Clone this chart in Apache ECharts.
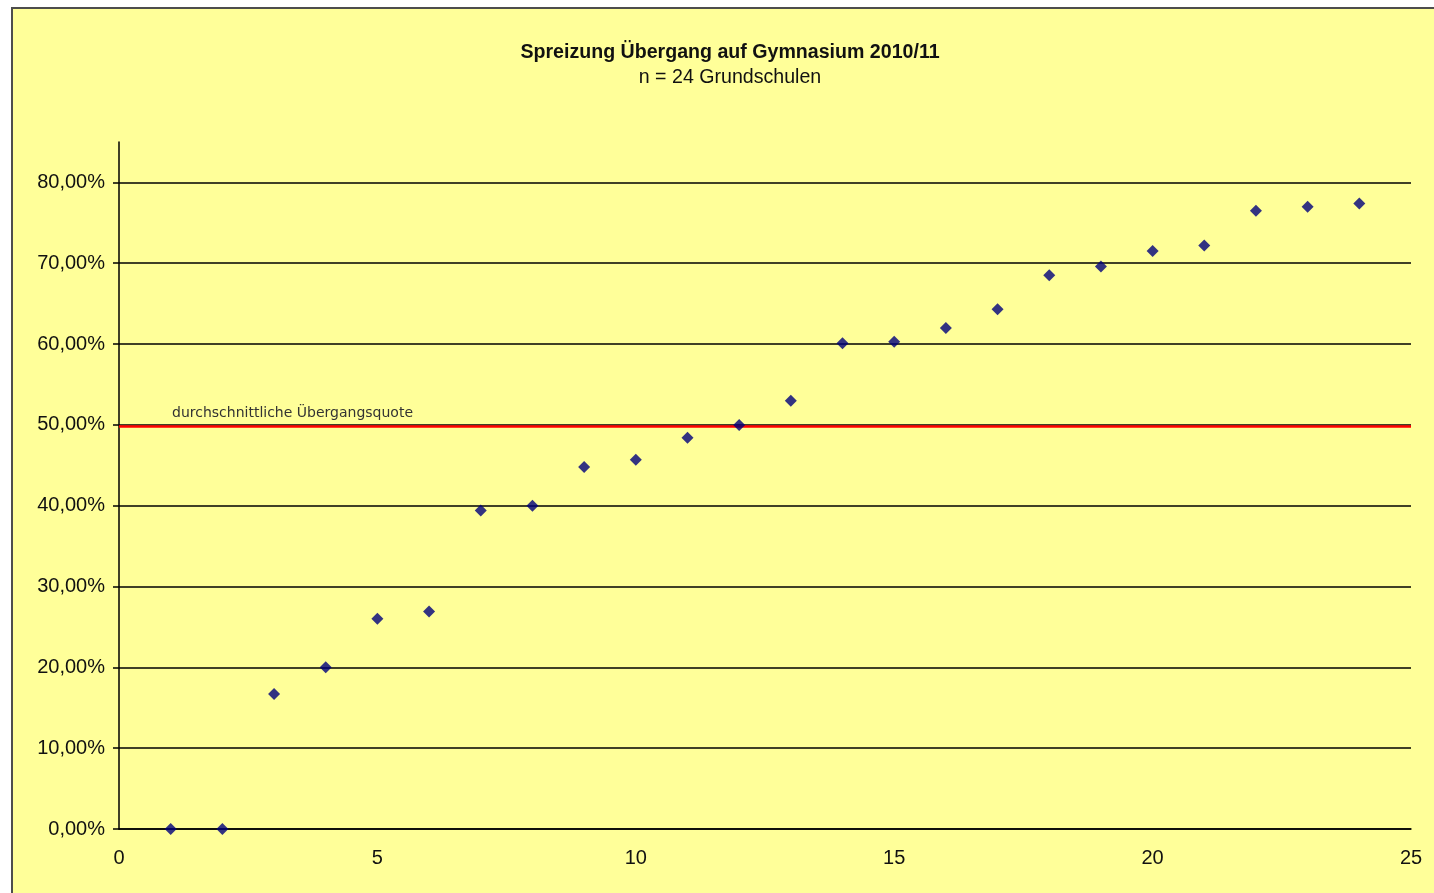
<!DOCTYPE html>
<html>
<head>
<meta charset="utf-8">
<script src="https://cdn.jsdelivr.net/npm/echarts@6/dist/echarts.min.js"></script>
<style>
html,body{margin:0;padding:0;background:#fff;overflow:hidden;width:1434px;height:893px;}
#frame{position:absolute;left:11px;top:7px;width:1423px;height:886px;border-left:2px solid #4d4d4d;border-top:2px solid #4d4d4d;background:#ffff99;}
#chart{position:absolute;left:0;top:0;width:1423px;height:886px;}
</style>
</head>
<body>
<div id="frame"><div id="chart"></div></div>
<script>
// Schools (rank 1..24) and their transition rates in percent
const schools = [1,2,3,4,5,6,7,8,9,10,11,12,13,14,15,16,17,18,19,20,21,22,23,24];
const rates = [0.0,0.0,16.7,20.0,26.0,26.9,39.4,40.0,44.8,45.7,48.4,50.0,53.0,60.1,60.3,62.0,64.3,68.5,69.6,71.5,72.2,76.5,77.0,77.4];
const averageRate = 49.8;
const yTicks = [0,10,20,30,40,50,60,70,80];
const titleText = 'Spreizung Übergang auf Gymnasium 2010/11';
const subtitleText = 'n = 24 Grundschulen';
const avgLabel = 'durchschnittliche Übergangsquote';

const chart = echarts.init(document.getElementById('chart'), null, {renderer:'canvas'});
const fmt = v => v.toFixed(2).replace('.', ',') + '%';
const gridColors = yTicks.map(() => '#000').concat(['rgba(0,0,0,0)']);

chart.setOption({
  backgroundColor: 'transparent',
  animation: false,
  title: [
    {text: titleText, left: 712, top: 29, textAlign: 'center',
     textStyle: {fontFamily: 'Liberation Sans', fontSize: 19.6, fontWeight: 'bold', color: '#111'}},
    {text: subtitleText, left: 712, top: 54, textAlign: 'center',
     textStyle: {fontFamily: 'Liberation Sans', fontSize: 19.6, fontWeight: 'normal', color: '#111'}}
  ],
  grid: {left: 106, right: 25, top: 133, bottom: 66, containLabel: false},
  xAxis: {
    type: 'value', min: 0, max: 25, interval: 5,
    axisLine: {show: true, onZero: false, lineStyle: {color: '#000', width: 1.5}},
    axisTick: {show: false},
    splitLine: {show: false},
    axisLabel: {margin: 19, fontFamily: 'Liberation Sans', fontSize: 20, color: '#111'}
  },
  yAxis: {
    type: 'value', min: 0, max: 85, interval: 10,
    axisLine: {show: true, lineStyle: {color: '#000', width: 1.5}},
    axisTick: {show: true, inside: false, length: 6, customValues: yTicks, lineStyle: {color: '#000', width: 1.5}},
    splitLine: {show: true, lineStyle: {color: gridColors, width: 1.5}},
    axisLabel: {margin: 14, fontFamily: 'Liberation Sans', fontSize: 20, color: '#111',
      customValues: yTicks, padding: [3, 0, 0, 0],
      formatter: v => (v > 80 ? '' : fmt(v))}
  },
  series: [{
    type: 'scatter',
    data: schools.map((s, i) => [s, rates[i]]),
    symbol: 'diamond',
    symbolSize: 12,
    itemStyle: {color: '#00007a'},
    z: 5,
    markLine: {
      silent: true,
      symbol: 'none',
      z: 3,
      lineStyle: {color: '#ff0000', width: 2.5, type: 'solid'},
      label: {show: true, position: 'insideStartTop', formatter: avgLabel,
        fontFamily: 'DejaVu Sans', fontSize: 14, color: '#333', padding: [0, 0, 0, 47], distance: 6},
      data: [{yAxis: averageRate}]
    }
  }]
});
</script>
</body>
</html>
